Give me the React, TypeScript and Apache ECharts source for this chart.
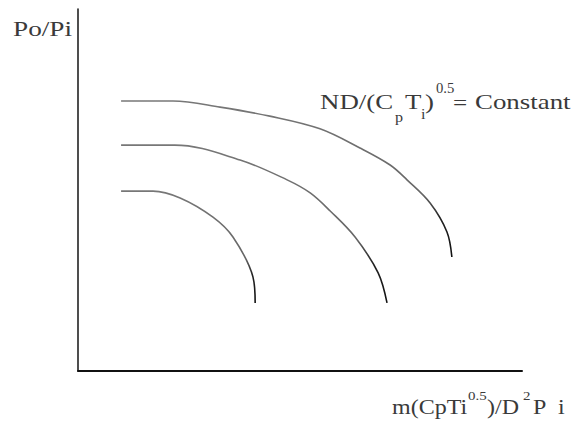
import React, { useEffect, useRef } from "react";
import * as echarts from "echarts";

// Curves (arbitrary units, axes 0..10)
const curve1X = [0.97, 2.14, 3.2, 4.32, 5.45, 6.35, 7.03, 7.41, 7.93, 8.31, 8.42];
const curve1Y = [7.46, 7.46, 7.29, 7.04, 6.69, 6.16, 5.69, 5.28, 4.64, 3.84, 3.15];
const curve2X = [0.97, 2.18, 3.65, 4.71, 5.23, 5.68, 6.24, 6.76, 6.96];
const curve2Y = [6.24, 6.24, 5.83, 5.28, 4.92, 4.42, 3.7, 2.71, 1.88];
const curve3X = [0.97, 1.69, 2.3, 3.04, 3.49, 3.94, 3.99];
const curve3Y = [4.97, 4.97, 4.78, 4.25, 3.7, 2.6, 1.88];

const yAxisTitle = "Po/Pi";
const curveLabel = ["ND/(C", "p", "T", "i", ")", "0.5", "=", "Constant"];
const xAxisTitle = ["m(CpTi", "0.5", ")/D", "2", "P", "i"];

const FONT = "'Liberation Serif', 'Times New Roman', serif";
const TXT = "#3a3a3a";

function zip(xs: number[], ys: number[]) {
  return xs.map((x, i) => [x, ys[i]]);
}

function txt(text: string, x: number, baseline: number, size: number, sx: number) {
  return {
    type: "text",
    x,
    y: baseline - size * 0.32,
    scaleX: sx,
    silent: true,
    style: {
      text,
      fontFamily: FONT,
      fontSize: size,
      fill: TXT,
      align: "left",
      verticalAlign: "middle",
    },
  };
}

export default function App() {
  const ref = useRef<HTMLDivElement>(null);
  useEffect(() => {
    if (!ref.current) return;
    const chart = echarts.init(ref.current, undefined, { renderer: "svg" });
    const lineColor = new echarts.graphic.LinearGradient(0, 0, 0, 1, [
      { offset: 0, color: "#777" },
      { offset: 0.6, color: "#666" },
      { offset: 0.75, color: "#222" },
      { offset: 1, color: "#111" },
    ]);
    const mkSeries = (xs: number[], ys: number[]) => ({
      type: "line",
      data: zip(xs, ys),
      showSymbol: false,
      smooth: 0.35,
      lineStyle: { color: lineColor, width: 1.6 },
    });
    chart.setOption({
      animation: false,
      backgroundColor: "#fff",
      grid: { left: 78, top: 9, width: 444, height: 362 },
      xAxis: {
        type: "value",
        min: 0,
        max: 10,
        axisLine: { show: true, lineStyle: { color: "#111", width: 2 } },
        axisTick: { show: false },
        axisLabel: { show: false },
        splitLine: { show: false },
      },
      yAxis: {
        type: "value",
        min: 0,
        max: 10,
        axisLine: { show: true, lineStyle: { color: "#222", width: 1.6 } },
        axisTick: { show: false },
        axisLabel: { show: false },
        splitLine: { show: false },
      },
      series: [
        mkSeries(curve1X, curve1Y),
        mkSeries(curve2X, curve2Y),
        mkSeries(curve3X, curve3Y),
      ],
      graphic: [
        txt(yAxisTitle, 13, 35, 22, 1.24),
        txt(curveLabel[0], 320, 109, 21, 1.28),
        txt(curveLabel[1], 395, 122, 14, 1.15),
        txt(curveLabel[2], 405, 109, 21, 1.28),
        txt(curveLabel[3], 421, 119, 14, 1.15),
        txt(curveLabel[4], 425, 109, 21, 1.28),
        txt(curveLabel[5], 436, 93, 14, 1.05),
        txt(curveLabel[6], 453, 109, 21, 1.2),
        txt(curveLabel[7], 475, 109, 21, 1.28),
        txt(xAxisTitle[0], 392, 414, 20, 1.2),
        txt(xAxisTitle[1], 468, 400, 13, 1.15),
        txt(xAxisTitle[2], 487, 414, 20, 1.2),
        txt(xAxisTitle[3], 523, 400, 13, 1.15),
        txt(xAxisTitle[4], 533, 414, 20, 1.2),
        txt(xAxisTitle[5], 558, 414, 20, 1.2),
      ],
    });
    return () => chart.dispose();
  }, []);
  return (
    <div
      ref={ref}
      style={{ position: "fixed", left: 0, top: 0, width: 576, height: 424 }}
    />
  );
}
